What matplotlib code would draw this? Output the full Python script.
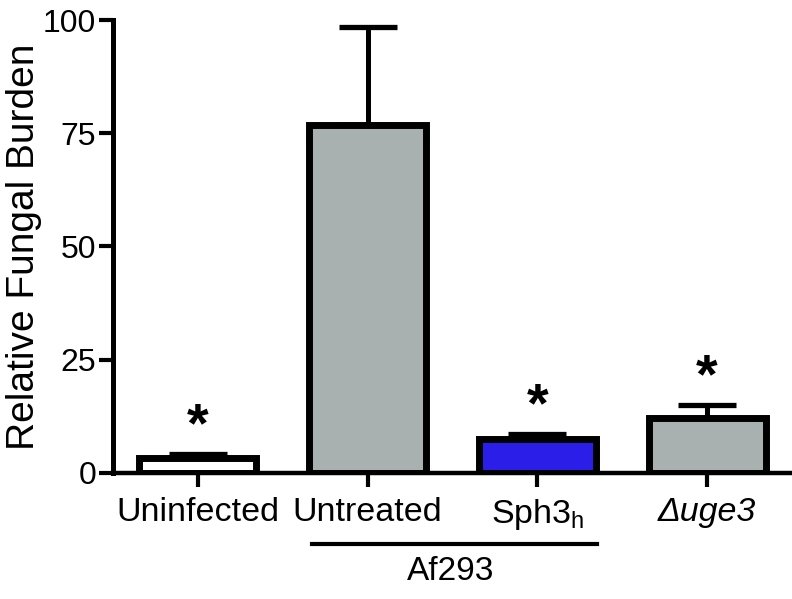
import numpy as np
import matplotlib.pyplot as plt
import matplotlib.transforms as mtransforms

plt.rcParams['font.family'] = ['Liberation Sans', 'DejaVu Sans']
plt.rcParams['mathtext.fontset'] = 'custom'
plt.rcParams['mathtext.rm'] = 'Liberation Sans'
plt.rcParams['mathtext.it'] = 'Liberation Sans:italic'

# data
groups = ['Uninfected', 'Untreated', 'Sph3$_{\\mathrm{h}}$', 'Δuge3']
means = [3.3, 76.8, 7.5, 12.1]
errs = [0.8, 21.7, 1.1, 2.9]
colors = ['white', '#a8b1af', '#2a1ee8', '#a8b1af']
signif = [True, False, True, True]

x = np.arange(len(groups))

fig = plt.figure(figsize=(7.92, 5.99), dpi=100)
ax = fig.add_axes([0.1427, 0.2104, 0.8573, 0.7562])

ax.errorbar(x, means, yerr=[np.zeros(len(errs)), errs], fmt='none',
            ecolor='black', elinewidth=3.6, capsize=21, capthick=3.8, zorder=1)
ax.bar(x, means, width=0.69, color=colors, edgecolor='black', linewidth=5, zorder=2)

for xi, m, e, s in zip(x, means, errs, signif):
    if s:
        ax.text(xi, m + e + 2.8, '*', ha='center', va='baseline',
                fontsize=40, fontweight='bold')

ax.set_xlim(-0.5, 3.5)
ax.set_ylim(0, 100)
ax.set_yticks([0, 25, 50, 75, 100])
ax.set_xticks(x)
ax.set_xticklabels(groups, fontsize=24.5)
ax.get_xticklabels()[3].set_fontstyle('italic')
ax.set_ylabel('Relative Fungal Burden', fontsize=28, labelpad=1)

for side in ['top', 'right']:
    ax.spines[side].set_visible(False)
ax.spines['left'].set_linewidth(3.6)
ax.spines['bottom'].set_linewidth(3.2)
ax.tick_params(axis='both', width=3, length=10)
ax.tick_params(axis='y', pad=2, labelsize=23)
ax.tick_params(axis='x', pad=7)

# Af293 grouping line
trans = mtransforms.blended_transform_factory(ax.transData, ax.transAxes)
ax.plot([0.67, 2.35], [-0.157, -0.157], color='black', linewidth=3,
        transform=trans, clip_on=False)
ax.text(1.49, -0.218, 'Af293', transform=trans, ha='center', va='center', fontsize=24)

fig.savefig('out.png', dpi=100)
